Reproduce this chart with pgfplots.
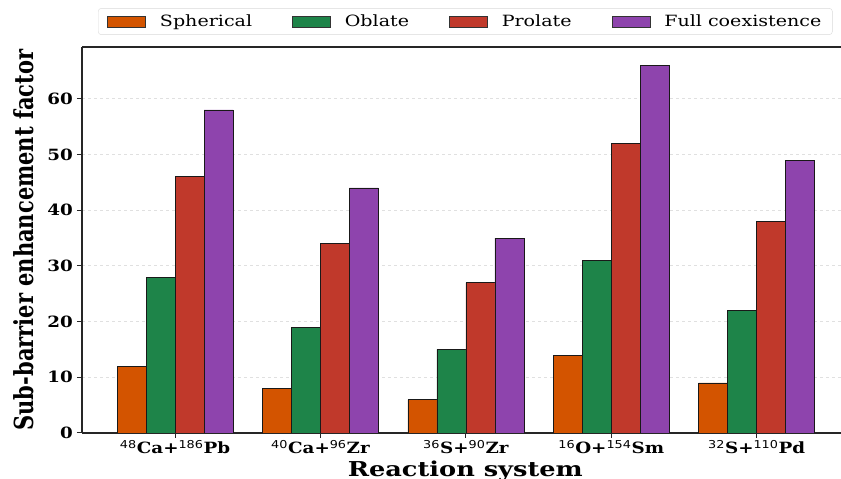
\documentclass[border=0pt]{standalone}
\usepackage{fontspec}
\setmainfont{DejaVu Serif}
\setsansfont{DejaVu Sans}
\usepackage{graphicx}
\usepackage{pgfplots}
\pgfplotsset{compat=1.18}
\definecolor{csph}{HTML}{D35400}
\definecolor{cobl}{HTML}{1E8449}
\definecolor{cpro}{HTML}{C0392B}
\definecolor{cful}{HTML}{8E44AD}
\newcommand{\nuc}[1]{\textsuperscript{\sffamily\mdseries #1}}
\newcommand{\legtxt}[1]{\scalebox{1.23}[1]{#1}}
\begin{document}
\begin{tikzpicture}[x=1pt,y=1pt]
\useasboundingbox (0,0) rectangle (841,479);
\begin{axis}[
  at={(82pt,46pt)}, anchor=south west,
  scale only axis, width=759pt, height=386pt,
  xmin=-0.64, xmax=4.58, ymin=0, ymax=69.3,
  axis x line*=box, axis y line*=left,
  axis line style={line width=1.5pt, color=black!85},
  xtick={0,1,2,3,4},
  xticklabels={\nuc{48}Ca+\nuc{186}Pb, \nuc{40}Ca+\nuc{96}Zr, \nuc{36}S+\nuc{90}Zr, \nuc{16}O+\nuc{154}Sm, \nuc{32}S+\nuc{110}Pd},
  ytick={0,10,...,60},
  xtick pos=lower, ytick pos=left,
  tick align=outside, major tick length=5pt,
  tick style={line width=1pt, color=black!85},
  /pgf/number format/assume math mode=true,
  ticklabel style={font=\bfseries\fontsize{15.5}{15.5}\selectfont, xscale=1.18},
  xticklabel style={yshift=1pt},
  ymajorgrids, grid style={dashed, black!12, line width=0.8pt},
  ybar=0pt, bar width=29pt,
  xlabel={Reaction system}, ylabel={Sub-barrier enhancement factor},
  label style={font=\bfseries\fontsize{20.5}{20.5}\selectfont},
  xlabel style={at={(axis description cs:0.505,0)}, anchor=north, yshift=-24pt, xscale=1.25},
  ylabel style={at={(axis description cs:0,0.5)}, anchor=south, yshift=44pt, yscale=1.25, font=\bfseries\fontsize{21}{21}\selectfont},
  legend columns=4,
  legend style={at={(0.505,1.066)}, anchor=center, draw=black!15, rounded corners=3pt,
    font=\fontsize{15.5}{15.5}\selectfont, inner xsep=9pt, inner ysep=4.5pt,
    /tikz/every odd column/.append style={column sep=12pt},
    /tikz/every even column/.append style={column sep=38pt}},
  legend image code/.code={\draw[#1, draw=black!80, sharp corners] (0pt,-5.5pt) rectangle (38pt,5.5pt);},
]
\addplot[fill=csph, draw=black!90, line width=0.7pt] coordinates {(0,12) (1,8) (2,6) (3,14) (4,9)};
\addplot[fill=cobl, draw=black!90, line width=0.7pt] coordinates {(0,28) (1,19) (2,15) (3,31) (4,22)};
\addplot[fill=cpro, draw=black!90, line width=0.7pt] coordinates {(0,46) (1,34) (2,27) (3,52) (4,38)};
\addplot[fill=cful, draw=black!90, line width=0.7pt] coordinates {(0,58) (1,44) (2,35) (3,66) (4,49)};
\legend{\legtxt{Spherical}, \legtxt{Oblate}, \legtxt{Prolate}, \legtxt{Full coexistence}}
\end{axis}
\end{tikzpicture}
\end{document}
